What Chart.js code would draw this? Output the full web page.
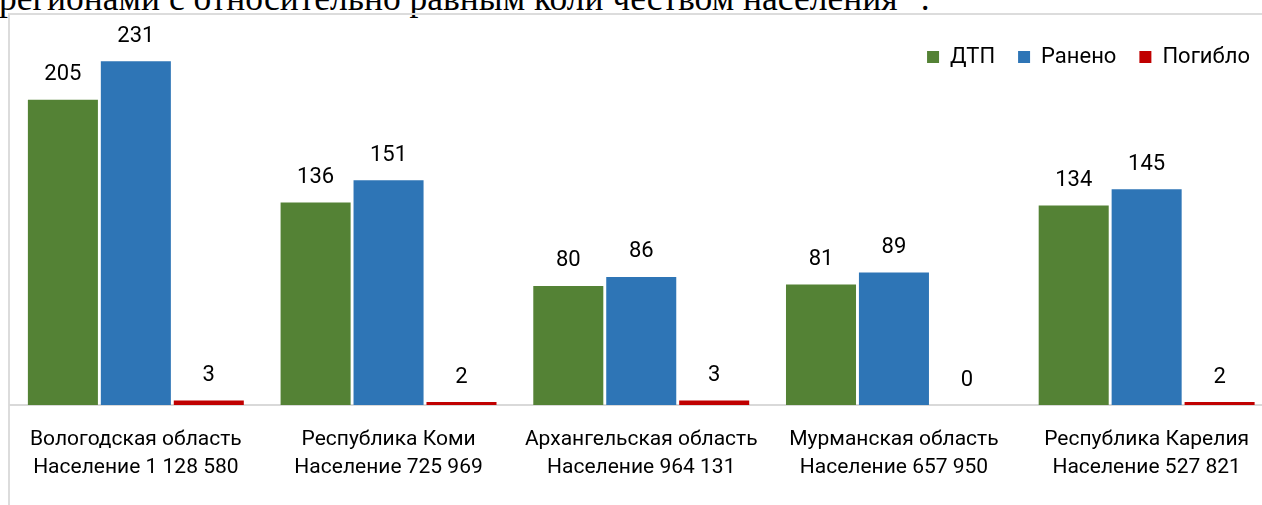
<!DOCTYPE html>
<html lang="ru">
<head>
<meta charset="utf-8">
<script src="https://cdn.jsdelivr.net/npm/chart.js@4/dist/chart.umd.min.js"></script>
<style>
  html, body { margin: 0; padding: 0; background: #fff; overflow: hidden; }
  body { width: 1262px; height: 505px; position: relative; }
  .caption {
    position: absolute; left: -1px; top: -22px;
    font: 35.5px "Liberation Serif", serif; line-height: 40px;
    white-space: nowrap; color: #000;
  }
  .frame {
    position: absolute; left: 8px; top: 13px; width: 1300px; height: 520px;
    border-left: 2px solid #dcdcdc; border-top: 2px solid #dcdcdc;
  }
  .wrap { position: absolute; left: 9px; top: 14px; width: 1290px; height: 491px; }
</style>
</head>
<body>
<div class="caption">регионами с относительно равным коли чеством населения" .</div>
<div class="frame"></div>
<div class="wrap"><canvas id="chart"></canvas></div>
<script>
(() => {
  'use strict'

  const regions = [
    ['Вологодская область', 'Население 1 128 580'],
    ['Республика Коми', 'Население 725 969'],
    ['Архангельская область', 'Население 964 131'],
    ['Мурманская область', 'Население 657 950'],
    ['Республика Карелия', 'Население 527 821']
  ]
  const accidents = [205, 136, 80, 81, 134]
  const injured = [231, 151, 86, 89, 145]
  const killed = [3, 2, 3, 0, 2]

  const font = 'Roboto'

  // value labels above bars
  const valueLabels = {
    id: 'valueLabels',
    afterDatasetsDraw (chart) {
      const c = chart.ctx
      c.save()
      c.font = `22px ${font}`
      c.fillStyle = '#000'
      c.textAlign = 'center'
      c.textBaseline = 'middle'
      chart.data.datasets.forEach((ds, i) => {
        chart.getDatasetMeta(i).data.forEach((bar, j) => {
          c.fillText(String(ds.data[j]), bar.x, bar.y - 25)
        })
      })
      c.restore()
    }
  }

  // legend sits over the plot: no room taken in layout, real height restored for drawing
  const legendOverlay = {
    id: 'legendOverlay',
    beforeInit (chart) {
      const fit = chart.legend.fit
      chart.legend.fit = function () {
        fit.call(this)
        this._fullHeight = this.height
        this.height = 0
      }
    },
    afterLayout (chart) {
      const lg = chart.legend
      lg.top += 5
      lg.height = lg._fullHeight
      lg.bottom = lg.top + lg._fullHeight
    }
  }

  const ctx = document.getElementById('chart')
  // eslint-disable-next-line no-unused-vars
  const myChart = new Chart(ctx, {
    type: 'bar',
    data: {
      labels: regions,
      datasets: [
        { label: 'ДТП', data: accidents, backgroundColor: '#548235' },
        { label: 'Ранено', data: injured, backgroundColor: '#2e75b6' },
        { label: 'Погибло', data: killed, backgroundColor: '#c00000' }
      ]
    },
    options: {
      responsive: true,
      maintainAspectRatio: false,
      animation: false,
      layout: { padding: { top: 4, right: 26, left: 0, bottom: 0 } },
      datasets: {
        bar: { categoryPercentage: 0.866, barPercentage: 0.96 }
      },
      scales: {
        x: {
          grid: { display: false, drawTicks: false },
          border: { display: true, color: '#d9d9d9', width: 2 },
          ticks: {
            color: '#000',
            font: { family: font, size: 21, lineHeight: 1.34 },
            padding: 21,
            maxRotation: 0,
            autoSkip: false
          },
          afterFit (scale) { scale.height = 100 }
        },
        y: {
          display: false,
          min: 0,
          max: 260
        }
      },
      plugins: {
        legend: {
          position: 'top',
          align: 'end',
          labels: {
            color: '#000',
            boxWidth: 12,
            boxHeight: 12,
            padding: 23,
            font: { family: font, size: 22 }
          }
        },
        tooltip: { enabled: false }
      }
    },
    plugins: [valueLabels, legendOverlay]
  })
})()
</script>
</body>
</html>
